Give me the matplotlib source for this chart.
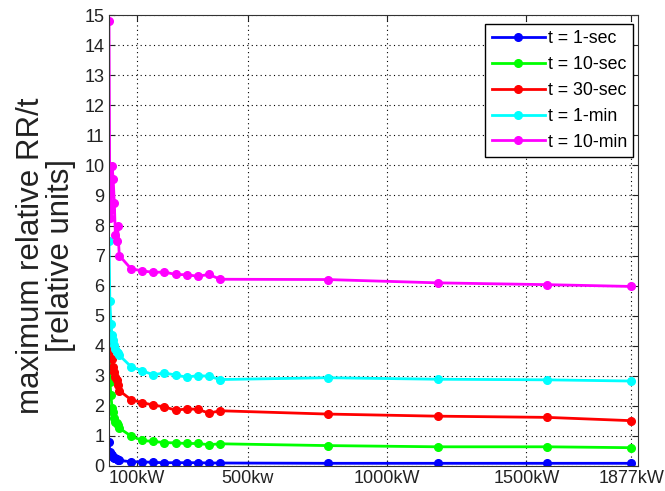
import matplotlib
matplotlib.use('Agg')
import matplotlib.pyplot as plt
import numpy as np

plt.rcParams['font.family'] = ['Liberation Sans', 'DejaVu Sans']

# rated power of the aggregated plants [kW]
power = [1, 4, 8, 12, 16, 20, 24, 28, 32, 38,
         80, 120, 160, 200, 240, 280, 320, 360, 400,
         787, 1181, 1574, 1877]

# maximum relative ramp rate for each time window
rr_1sec = [0.80, 0.45, 0.40, 0.36, 0.30, 0.27, 0.25, 0.22, 0.20, 0.18,
           0.13, 0.13, 0.11, 0.10, 0.10, 0.10, 0.10, 0.09, 0.09,
           0.08, 0.08, 0.08, 0.08]
rr_10sec = [4.40, 2.80, 2.35, 1.91, 1.80, 1.58, 1.46, 1.41, 1.35, 1.25,
            0.99, 0.84, 0.81, 0.77, 0.76, 0.74, 0.74, 0.70, 0.73,
            0.67, 0.63, 0.63, 0.60]
rr_30sec = [4.68, 4.17, 3.85, 3.57, 3.30, 3.13, 2.95, 2.85, 2.68, 2.50,
            2.20, 2.10, 2.02, 1.96, 1.85, 1.89, 1.88, 1.75, 1.83,
            1.72, 1.65, 1.61, 1.50]
rr_1min = [7.50, 5.49, 4.71, 4.35, 4.20, 4.01, 3.90, 3.80, 3.74, 3.68,
           3.30, 3.16, 3.03, 3.09, 3.02, 2.95, 3.00, 2.98, 2.87,
           2.93, 2.88, 2.86, 2.82]
rr_10min = [14.80, 8.25, 8.50, 9.97, 9.55, 8.75, 7.67, 7.48, 7.97, 7.00,
            6.56, 6.49, 6.44, 6.45, 6.37, 6.36, 6.31, 6.37, 6.21,
            6.20, 6.09, 6.03, 5.97]

series = [rr_1sec, rr_10sec, rr_30sec, rr_1min, rr_10min]
labels = ['t = 1-sec', 't = 10-sec', 't = 30-sec', 't = 1-min', 't = 10-min']
colors = ['#0000ff', '#00ff00', '#ff0000', '#00ffff', '#ff00ff']

xticks = [100, 500, 1000, 1500, 1877]
xticklabels = ['100kW', '500kw', '1000kW', '1500kW', '1877kW']

fig = plt.figure(figsize=(6.65, 4.91), dpi=100)
ax = fig.add_axes([0.1635, 0.0515, 0.7955, 0.9173])

for y, lab, c in zip(series, labels, colors):
    ax.plot(power, y, '-o', color=c, lw=2, ms=5.5, label=lab)

ax.set_xlim(0, 1900)
ax.set_ylim(0, 15)
ax.set_yticks(np.arange(0, 16, 1))
ax.set_xticks(xticks)
ax.set_xticklabels(xticklabels)
ax.tick_params(direction='in', top=True, right=True, labelsize=13,
               colors='#222222', length=4, pad=3)
for s in ax.spines.values():
    s.set_color('#333333')
ax.grid(True, color='black', linestyle=(0, (1, 3)), linewidth=0.8)

fig.text(0.069, 0.479, 'maximum relative RR/t\n[relative units]',
         rotation=90, ha='center', va='center', fontsize=22.5,
         color='#222222', linespacing=1.0)

leg = ax.legend(loc='upper right', bbox_to_anchor=(0.991, 0.981),
                fontsize=12.8, handlelength=3.0, handletextpad=0.15,
                labelspacing=0.5, borderpad=0.35, borderaxespad=0,
                fancybox=False, framealpha=1)
leg.get_frame().set_edgecolor('black')

fig.savefig('out.png', dpi=100)
